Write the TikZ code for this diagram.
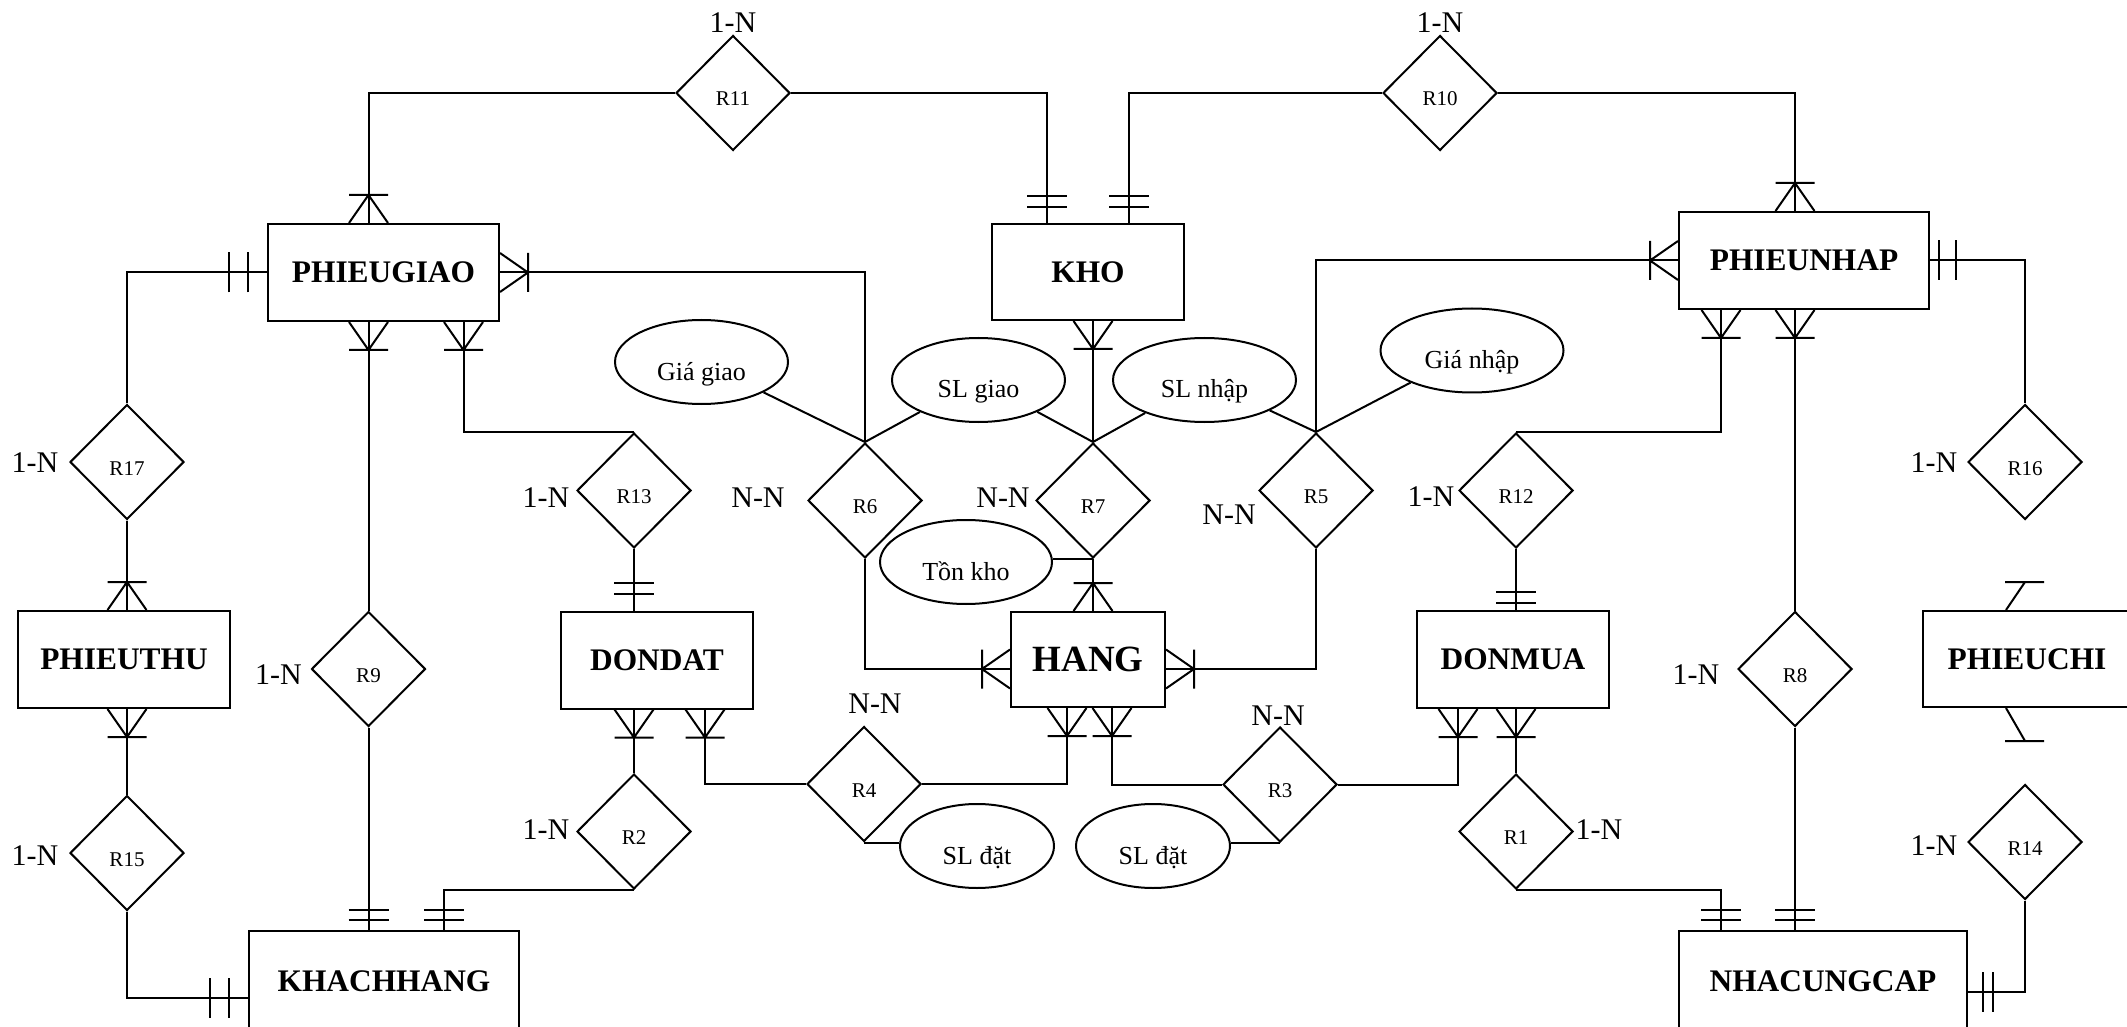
\documentclass[tikz,border=0pt]{standalone}
\usepackage{fontspec}
\setmainfont{Liberation Serif}
\usetikzlibrary{shapes.geometric,calc}
\tikzset{
  ent/.style={draw, rectangle, minimum height=48.5pt, inner sep=2pt,
              font=\fontsize{15.7}{18}\selectfont\bfseries},
  rel/.style={draw, diamond, minimum width=57pt, minimum height=57.5pt, inner sep=0pt,
              text height=13pt, text depth=0pt, font=\fontsize{10.5}{12}\selectfont},
  att/.style={draw, ellipse, minimum height=42pt, inner sep=0pt,
              text height=18pt, text depth=0pt, font=\fontsize{13}{15}\selectfont},
  card/.style={inner sep=0pt, font=\fontsize{15}{17}\selectfont},
  pics/crow/.style={code={\draw (-19.5,0) -- (0,-28) -- (19.5,0) (-19.5,-28) -- (19.5,-28);}},
  pics/bars/.style 2 args={code={\draw (-20,-#1) -- (20,-#1) (-20,-#2) -- (20,-#2);}},
}
\begin{document}
\begin{tikzpicture}[x=0.5pt, y=-0.5pt, line width=1pt]
  \useasboundingbox (0,0) rectangle (2127,1027);
  % entities
  \node[ent, minimum width=115.5pt] (pgiao) at (383.5,272.5) {PHIEUGIAO};
  \node[ent, minimum width=96pt, minimum height=48pt] (kho) at (1088,272) {KHO};
  \node[ent, minimum width=125pt] (pnhap) at (1804,260.5) {PHIEUNHAP};
  \node[ent, minimum width=106pt] (pthu) at (124,659.5) {PHIEUTHU};
  \node[ent, minimum width=95.75pt] (dondat) at (657,660) {DONDAT};
  \node[ent, minimum width=77pt, minimum height=47.5pt, font=\fontsize{18.5}{21}\selectfont\bfseries] (hang) at (1088,659.5) {HANG};
  \node[ent, minimum width=96pt] (donmua) at (1513,659.5) {DONMUA};
  \node[ent, minimum width=104pt, minimum height=48pt] (pchi) at (2027,659) {PHIEUCHI};
  \node[ent, minimum width=135pt, minimum height=50pt] (khach) at (384,981) {KHACHHANG};
  \node[ent, minimum width=144pt, minimum height=50pt] (ncc) at (1823,981) {NHACUNGCAP};
  % relationships
  \node[rel] (r11) at (733,93) {R11};
  \node[rel] (r10) at (1440,93) {R10};
  \node[rel] (r17) at (127,462) {R17};
  \node[rel] (r13) at (634,490.5) {R13};
  \node[rel] (r6) at (865,500.5) {R6};
  \node[rel] (r7) at (1093,500.5) {R7};
  \node[rel] (r5) at (1316,490.5) {R5};
  \node[rel] (r12) at (1516,490.5) {R12};
  \node[rel] (r16) at (2025,462) {R16};
  \node[rel] (r9) at (368.5,669) {R9};
  \node[rel] (r8) at (1795,669) {R8};
  \node[rel] (r4) at (864,784) {R4};
  \node[rel] (r3) at (1280,784.5) {R3};
  \node[rel] (r2) at (634,831.5) {R2};
  \node[rel] (r1) at (1516,831.5) {R1};
  \node[rel] (r15) at (127,853) {R15};
  \node[rel] (r14) at (2025,842) {R14};
  % attributes
  \node[att, minimum width=86.5pt] (giagiao) at (701.5,362) {Giá giao};
  \node[att, minimum width=86.5pt] (slgiao) at (978.5,380) {SL giao};
  \node[att, minimum width=91.5pt] (slnhap) at (1204.5,380) {SL nhập};
  \node[att, minimum width=91.5pt] (gianhap) at (1472,350.5) {Giá nhập};
  \node[att, minimum width=86pt] (tonkho) at (966,562) {Tồn kho};
  \node[att, minimum width=77pt] (sldat1) at (977,846) {SL đặt};
  \node[att, minimum width=77pt] (sldat2) at (1153,846) {SL đặt};
  % cardinalities
  \node[card] (c11) at (733,23) {1-N};
  \node[card] (c10) at (1440,23) {1-N};
  \node[card] (c17) at (35,463) {1-N};
  \node[card] (c13) at (546,498) {1-N};
  \node[card] (c6) at (758,498) {N-N};
  \node[card] (c7) at (1003,498) {N-N};
  \node[card] (c5) at (1229,515) {N-N};
  \node[card] (c12) at (1431,497) {1-N};
  \node[card] (c16) at (1934,463) {1-N};
  \node[card] (c9) at (278.5,675) {1-N};
  \node[card] (c8) at (1696,675) {1-N};
  \node[card] (c4) at (875,704) {N-N};
  \node[card] (c3) at (1278,716) {N-N};
  \node[card] (c2) at (546,830) {1-N};
  \node[card] (c1) at (1599,830) {1-N};
  \node[card] (c15) at (35,856) {1-N};
  \node[card] (c14) at (1934,846) {1-N};
  % links
  \draw (r11.west) -| (r9 |- pgiao.north);
  \draw (r11.east) -| ([xshift=-20.5pt]kho.north);
  \draw (r10.west) -| ([xshift=20.5pt]kho.north);
  \draw (r10.east) -| (r8 |- pnhap.north);
  \draw (pgiao.east) -| (r6.north);
  \draw (pgiao.west) -| (r17.north);
  \draw (r9 |- pgiao.south) -- (r9.north);
  \draw ([xshift=40pt]pgiao.south) |- (r13.north);
  \draw (r13.south) -- (r13 |- dondat.north);
  \draw (r17.south) -- (r17 |- pthu.north);
  \draw (r15 |- pthu.south) -- (r15.north);
  \draw (r15.south) |- ([yshift=-8.25pt]khach.west);
  \draw (r9.south) -- (r9 |- khach.north);
  \draw (r2.south) -| ([xshift=30pt]khach.north);
  \draw (r2 |- dondat.south) -- (r2.north);
  \draw ([xshift=24pt]dondat.south) |- (r4.west);
  \draw (r4.east) -| ([xshift=-10.5pt]hang.south);
  \draw (r3.west) -| ([xshift=12pt]hang.south);
  \draw (r3.east) -| ([xshift=-27.5pt]donmua.south);
  \draw (r1 |- donmua.south) -- (r1.north);
  \draw (r1.south) -| ([xshift=-51pt]ncc.north);
  \draw (r8.south) -- (r8 |- ncc.north);
  \draw (r8 |- pnhap.south) -- (r8.north);
  \draw ([xshift=-41.5pt]pnhap.south) |- (r12.north);
  \draw (r12.south) -- (r12 |- donmua.north);
  \draw (pnhap.west) -| (r5.north);
  \draw (pnhap.east) -| (r16.north);
  \draw (r14.south) |- ([yshift=-5.5pt]ncc.east);
  \draw (r7 |- kho.south) -- (r7.north);
  \draw (r7.south) -- (r7 |- hang.north);
  \draw (r6.south) |- ([yshift=-4.75pt]hang.west);
  \draw (r5.south) |- ([yshift=-4.75pt]hang.east);
  % attribute links
  \draw (giagiao) -- (r6.north);
  \draw (slgiao) -- (r6.north);
  \draw (slgiao) -- (r7.north);
  \draw (slnhap) -- (r7.north);
  \draw (slnhap) -- (r5.north);
  \draw (gianhap) -- (r5.north);
  \draw (r7.south) -- (r7.south -| tonkho.east);
  \draw (r4.south) -- (r4.south -| sldat1.west);
  \draw (r3.south) -- (r3.south -| sldat2.east);
  % ends: top of boxes
  \pic at (r9 |- pgiao.north) {crow};
  \pic at ([xshift=-20.5pt]kho.north) {bars={16}{27}};
  \pic at ([xshift=20.5pt]kho.north) {bars={16}{27}};
  \pic at (r8 |- pnhap.north) {crow};
  \pic at (r17 |- pthu.north) {crow};
  \pic at (r13 |- dondat.north) {bars={17}{28}};
  \pic at (r7 |- hang.north) {crow};
  \pic at (r12 |- donmua.north) {bars={7}{18}};
  \pic at (r9 |- khach.north) {bars={10}{20}};
  \pic at ([xshift=30pt]khach.north) {bars={10}{20}};
  \pic at ([xshift=-51pt]ncc.north) {bars={10}{20}};
  \pic at (r8 |- ncc.north) {bars={10}{20}};
  % bottom of boxes
  \pic[rotate=180] at (r9 |- pgiao.south) {crow};
  \pic[rotate=180] at ([xshift=40pt]pgiao.south) {crow};
  \pic[rotate=180] at (r7 |- kho.south) {crow};
  \pic[rotate=180] at ([xshift=-41.5pt]pnhap.south) {crow};
  \pic[rotate=180] at (r8 |- pnhap.south) {crow};
  \pic[rotate=180] at (r15 |- pthu.south) {crow};
  \pic[rotate=180] at (r2 |- dondat.south) {crow};
  \pic[rotate=180] at ([xshift=24pt]dondat.south) {crow};
  \pic[rotate=180] at ([xshift=-10.5pt]hang.south) {crow};
  \pic[rotate=180] at ([xshift=12pt]hang.south) {crow};
  \pic[rotate=180] at ([xshift=-27.5pt]donmua.south) {crow};
  \pic[rotate=180] at (r1 |- donmua.south) {crow};
  % sides
  \pic[rotate=-90] at (pgiao.east) {crow};
  \pic[rotate=-90] at ([yshift=-4.75pt]hang.east) {crow};
  \pic[rotate=-90] at (pnhap.east) {bars={9}{26}};
  \pic[rotate=-90] at ([yshift=-5.5pt]ncc.east) {bars={15}{25}};
  \pic[rotate=90] at (pgiao.west) {bars={19}{38}};
  \pic[rotate=90] at ([yshift=-4.75pt]hang.west) {crow};
  \pic[rotate=90] at (pnhap.west) {crow};
  \pic[rotate=90] at ([yshift=-8.25pt]khach.west) {bars={19}{38}};
  % PHIEUCHI stubs
  \draw ([xshift=-10.5pt]pchi.north) -- ++(19,-28) ++(-20,0) -- ++(39,0);
  \draw ([xshift=-10.5pt]pchi.south) -- ++(19,33) ++(-20,0) -- ++(39,0);
\end{tikzpicture}
\end{document}
